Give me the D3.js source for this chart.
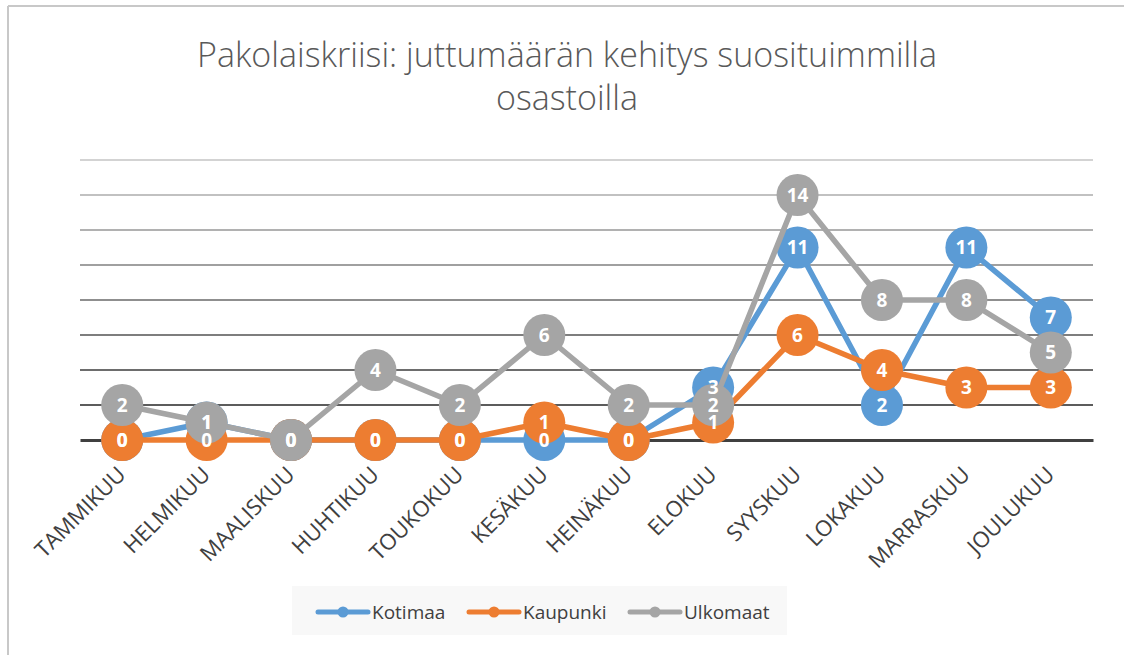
<!DOCTYPE html>
<html><head><meta charset="utf-8">
<script src="https://cdn.jsdelivr.net/npm/d3@7"></script>
<style>body{margin:0;background:#fff}svg{display:block}</style>
</head><body><svg id="c" width="1124" height="655"></svg>
<script>
const months = ["TAMMIKUU","HELMIKUU","MAALISKUU","HUHTIKUU","TOUKOKUU","KESÄKUU","HEINÄKUU","ELOKUU","SYYSKUU","LOKAKUU","MARRASKUU","JOULUKUU"];
const kotimaa  = [0,1,0,0,0,0,0,3,11,2,11,7];
const kaupunki = [0,0,0,0,0,1,0,1,6,4,3,3];
const ulkomaat = [2,1,0,4,2,6,2,2,14,8,8,5];
const seriesNames = ["Kotimaa","Kaupunki","Ulkomaat"];
const yTicks = [0,2,4,6,8,10,12,14,16];
const titleLines = ["Pakolaiskriisi: juttumäärän kehitys suosituimmilla","osastoilla"];

const colors = ["#5b9bd5","#ed7d31","#a5a5a5"];
const series = [kotimaa,kaupunki,ulkomaat].map((v,i)=>({name:seriesNames[i],values:v,color:colors[i]}));
const font = "Open Sans, Noto Sans, sans-serif";

const svg = d3.select("#c");
// border
svg.append("line").attr("x1",8).attr("x2",1124).attr("y1",6).attr("y2",6).attr("stroke","#c8c8c8").attr("stroke-width",2);
svg.append("line").attr("x1",8).attr("x2",8).attr("y1",6).attr("y2",655).attr("stroke","#c8c8c8").attr("stroke-width",2);

const x = d3.scaleBand().domain(months).range([80,1093]).padding(0);
const y = d3.scaleLinear().domain([0,16]).range([440,160]);
const gridColor = d3.scaleLinear().domain([2,16]).range(["#262626","#c4c4c4"]);

// title
const t = svg.append("text").attr("text-anchor","middle").attr("fill","#595959")
  .style("font-family",font).style("font-size","34px").style("font-weight","300");
titleLines.forEach((l,i)=>t.append("tspan").attr("x",567).attr("y",67+i*43).text(l));

// gridlines
svg.append("g").selectAll("line").data(yTicks.filter(d=>d>0)).join("line")
  .attr("x1",80).attr("x2",1093).attr("y1",d=>y(d)).attr("y2",d=>y(d))
  .attr("stroke",d=>gridColor(d)).attr("stroke-width",1.6);
// zero axis
const xAxis = svg.append("g").attr("transform",`translate(0,${y(0)})`)
  .call(d3.axisBottom(x).tickSize(0).tickPadding(0));
xAxis.select(".domain").attr("stroke","#404040").attr("stroke-width",3);
xAxis.selectAll(".tick text")
  .attr("fill","#404040").style("font-family",font).style("font-size","22px")
  .attr("text-anchor","end").attr("dy","0").attr("y",0)
  .attr("transform","translate(5,36) rotate(-45)");

const cx = m => x(m)+x.bandwidth()/2;
const line = d3.line().x((d,i)=>cx(months[i])).y(d=>y(d));

series.forEach(s=>{
  const g = svg.append("g");
  g.append("path").datum(s.values).attr("d",line).attr("fill","none")
    .attr("stroke",s.color).attr("stroke-width",5.5).attr("stroke-linejoin","round");
  g.selectAll("circle").data(s.values).join("circle")
    .attr("cx",(d,i)=>cx(months[i])).attr("cy",d=>y(d)).attr("r",21).attr("fill",s.color);
});
series.forEach(s=>{
  svg.append("g").selectAll("text").data(s.values).join("text")
    .attr("x",(d,i)=>cx(months[i])).attr("y",d=>y(d)).attr("dy","0.36em")
    .attr("text-anchor","middle").attr("fill","#fff")
    .style("font-family",font).style("font-size","19px").style("font-weight","700")
    .text(d=>d);
});

// legend
const lg = svg.append("g");
lg.append("rect").attr("x",292).attr("y",586).attr("width",495).attr("height",49).attr("fill","#f8f8f8");
const legX = [318,469,630];
series.forEach((s,i)=>{
  const g = lg.append("g").attr("transform",`translate(${legX[i]},612)`);
  g.append("line").attr("x1",0).attr("x2",50).attr("y1",0).attr("y2",0)
    .attr("stroke",s.color).attr("stroke-width",5).attr("stroke-linecap","round");
  g.append("circle").attr("cx",25).attr("cy",0).attr("r",5.5).attr("fill",s.color);
  g.append("text").attr("x",54).attr("y",0).attr("dy","0.35em").attr("fill","#404040")
    .style("font-family",font).style("font-size","19px").text(s.name);
});
</script></body></html>
